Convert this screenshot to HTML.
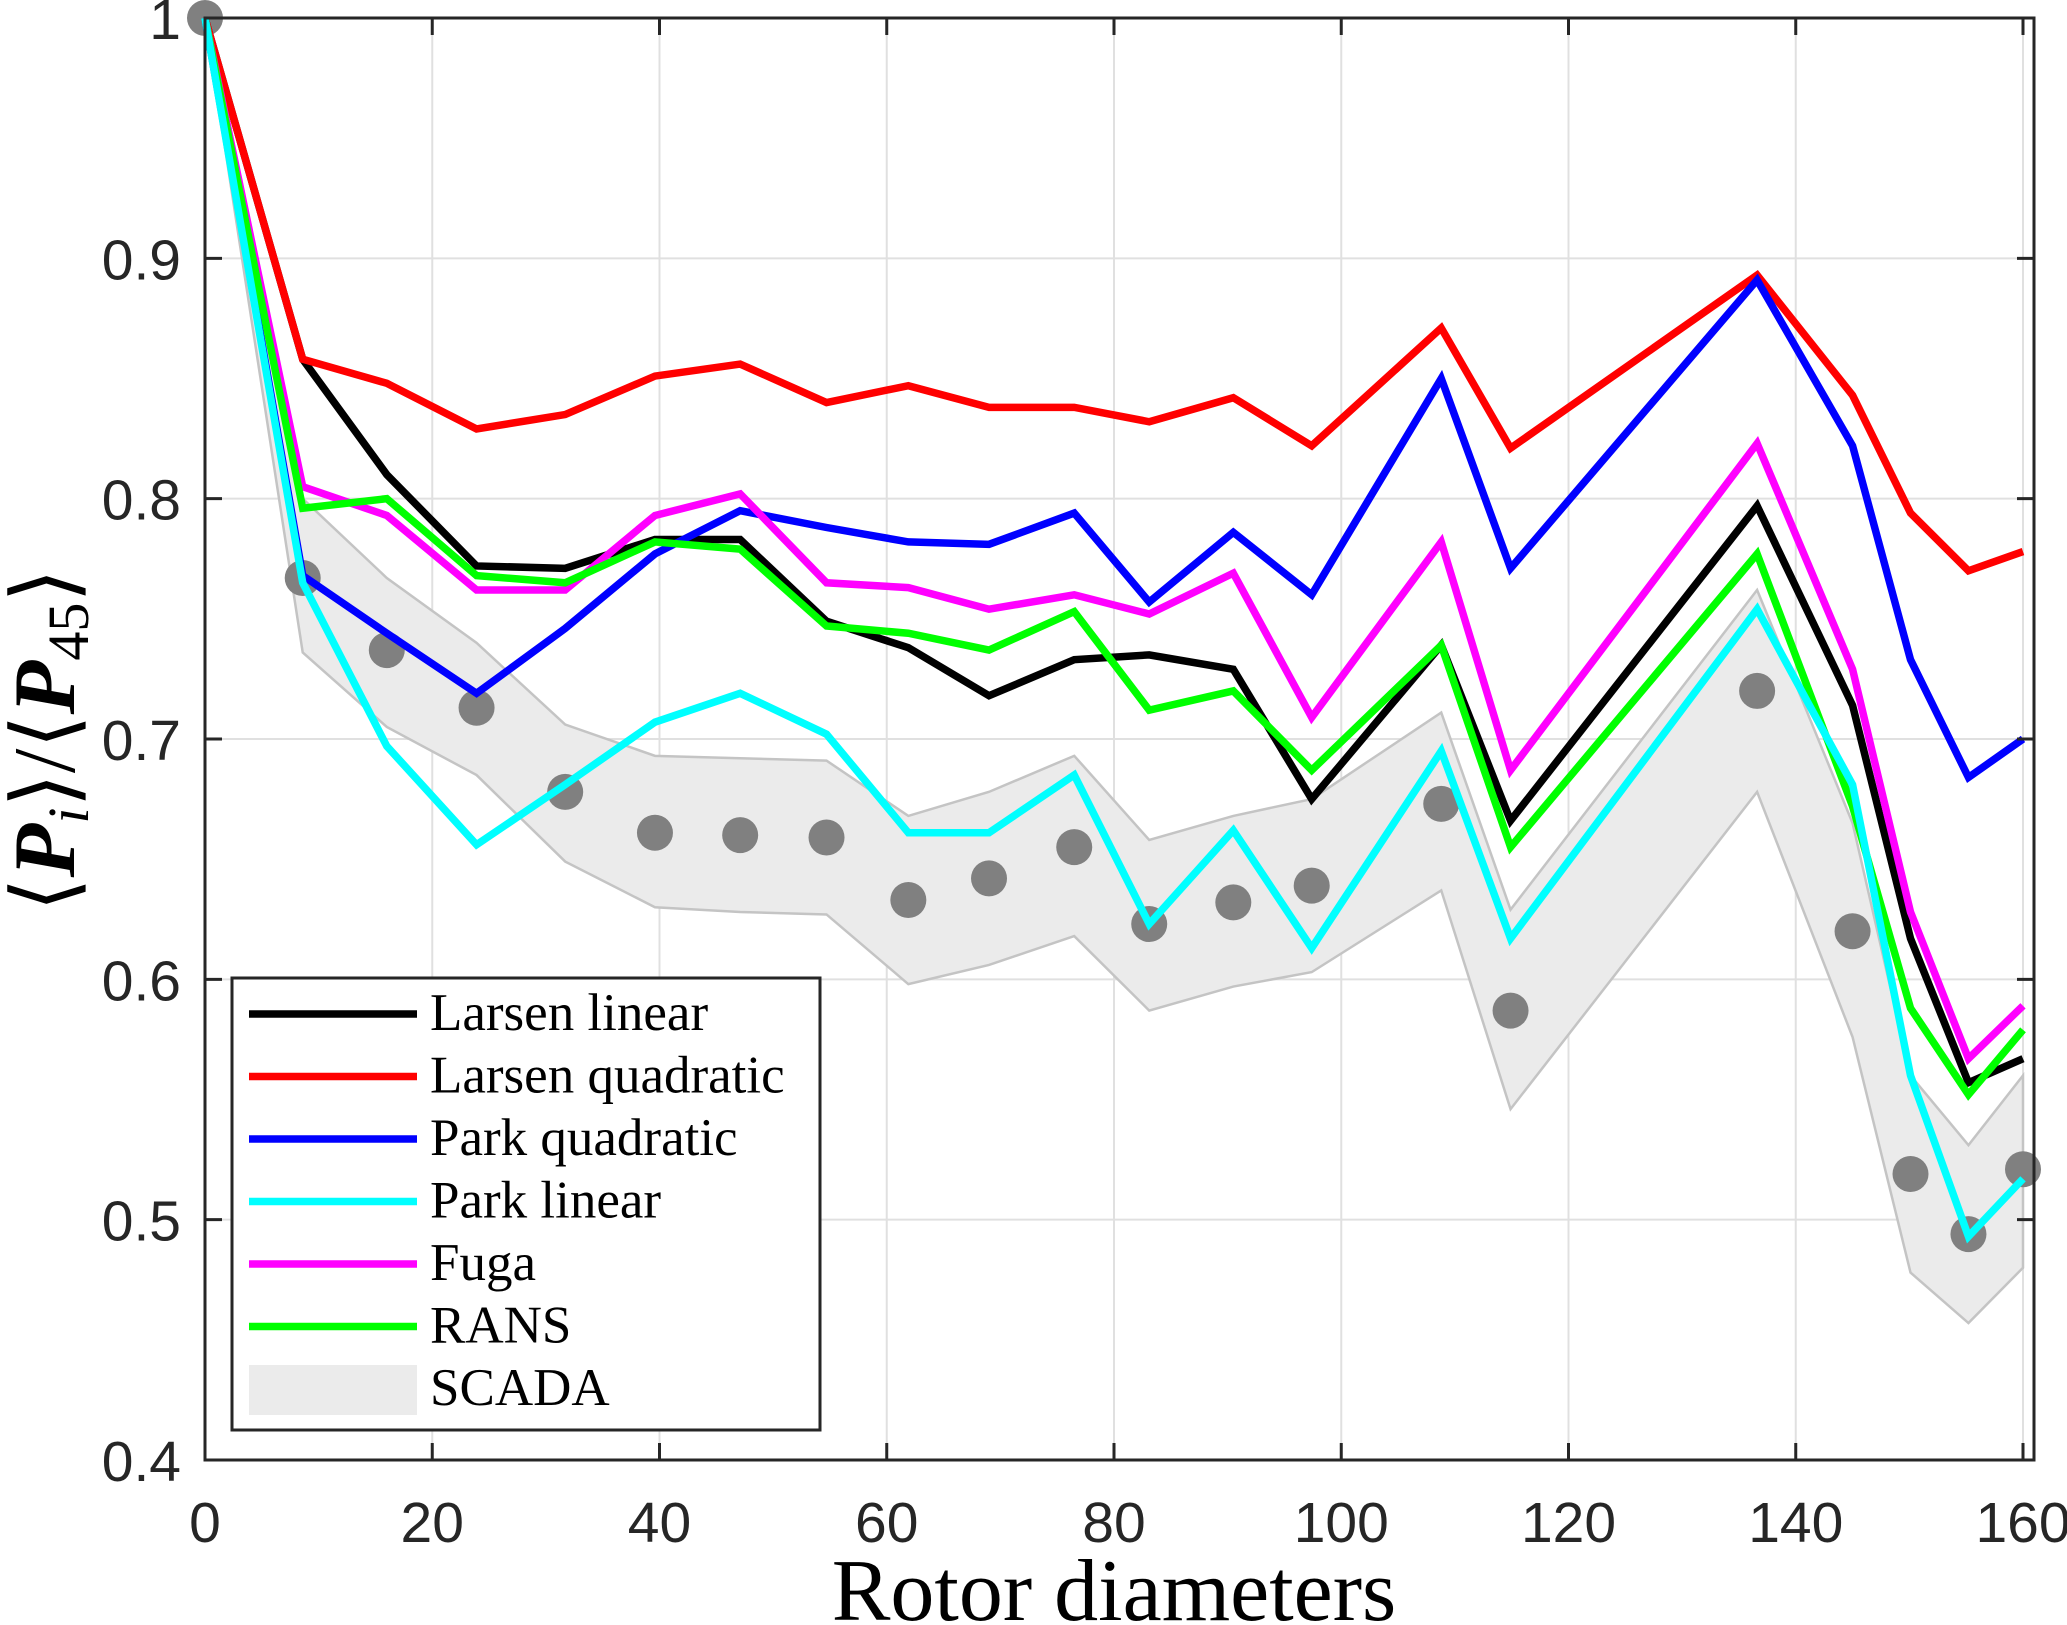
<!DOCTYPE html>
<html><head><meta charset="utf-8"><style>
html,body{margin:0;padding:0;background:#fff;}
svg{display:block;}
</style></head><body>
<svg id="chart" width="2067" height="1625" viewBox="0 0 2067 1625" xmlns="http://www.w3.org/2000/svg">
<g id="grid"></g>
<g id="band"></g>
<g id="dots"></g>
<g id="lines"></g>
<g id="axes"></g>
<g id="legend"></g>
<text x="1114" y="1620" text-anchor="middle" font-family="Liberation Serif, serif" font-size="88" fill="#000">Rotor diameters</text>
<text transform="translate(74,740) rotate(-90)" text-anchor="middle" font-family="Liberation Serif, serif" font-size="88" fill="#000">⟨<tspan font-style="italic" font-weight="bold">P</tspan><tspan font-style="italic" font-size="58" dy="14">i</tspan><tspan dy="-14">⟩/⟨</tspan><tspan font-style="italic" font-weight="bold">P</tspan><tspan font-size="58" dy="14">45</tspan><tspan dy="-14">⟩</tspan></text>
</svg>
<script>
const xs = [0,8.6,16,23.9,31.7,39.6,47.1,54.7,61.9,69,76.5,83.1,90.5,97.4,108.8,114.9,136.6,145,150.1,155.2,160];
const scada = [1,0.767,0.737,0.713,0.678,0.661,0.660,0.659,0.633,0.642,0.655,0.623,0.632,0.639,0.673,0.587,0.720,0.620,0.519,0.494,0.521];
const scadaUpper = [1,0.80,0.767,0.740,0.706,0.693,0.692,0.691,0.668,0.678,0.693,0.658,0.668,0.675,0.711,0.629,0.762,0.665,0.560,0.531,0.560];
const scadaLower = [1,0.736,0.705,0.685,0.649,0.630,0.628,0.627,0.598,0.606,0.618,0.587,0.597,0.603,0.637,0.546,0.678,0.576,0.478,0.457,0.480];
const larsenLinear = [1,0.858,0.810,0.772,0.771,0.783,0.783,0.749,0.738,0.718,0.733,0.735,0.729,0.675,0.739,0.666,0.797,0.714,0.617,0.557,0.567];
const larsenQuadratic = [1,0.858,0.848,0.829,0.835,0.851,0.856,0.840,0.847,0.838,0.838,0.832,0.842,0.822,0.871,0.821,0.893,0.843,0.794,0.770,0.778];
const parkQuadratic = [1,0.768,0.744,0.719,0.746,0.777,0.795,0.788,0.782,0.781,0.794,0.757,0.786,0.760,0.850,0.771,0.891,0.822,0.733,0.684,0.700];
const parkLinear = [1,0.765,0.697,0.656,0.681,0.707,0.719,0.702,0.661,0.661,0.685,0.623,0.662,0.613,0.695,0.617,0.754,0.681,0.560,0.493,0.517];
const fuga = [1,0.805,0.793,0.762,0.762,0.793,0.802,0.765,0.763,0.754,0.760,0.752,0.769,0.709,0.782,0.687,0.823,0.729,0.628,0.567,0.589];
const rans = [1,0.796,0.800,0.768,0.765,0.782,0.779,0.747,0.744,0.737,0.753,0.712,0.720,0.687,0.739,0.655,0.777,0.672,0.588,0.552,0.579];
const xTicks = [0,20,40,60,80,100,120,140,160];
const yTicks = [0.4,0.5,0.6,0.7,0.8,0.9,1];
const yTickLabels = ["0.4","0.5","0.6","0.7","0.8","0.9","1"];

const NS="http://www.w3.org/2000/svg";
const L=205,R=2034,T=18,B=1460;
const X=v=>205+(v/160)*1818;
const Y=v=>B-(v-0.4)/0.6*(B-T);
function mk(tag,attrs,parent){const e=document.createElementNS(NS,tag);for(const k in attrs)e.setAttribute(k,attrs[k]);parent.appendChild(e);return e;}
const grid=document.getElementById('grid');
xTicks.forEach(t=>{const e=mk('line',{x1:X(t),x2:X(t),y1:T,y2:B,stroke:'#e0e0e0','stroke-width':2},grid);

});
yTicks.forEach(t=>{const e=mk('line',{x1:L,x2:R,y1:Y(t),y2:Y(t),stroke:'#e0e0e0','stroke-width':2},grid);

});
const band=document.getElementById('band');
let pts=xs.map((x,i)=>X(x)+','+Y(scadaUpper[i])).concat(xs.slice().reverse().map((x,j)=>{const i=xs.length-1-j;return X(x)+','+Y(scadaLower[i]);}));
const bp=mk('polygon',{points:pts.join(' '),fill:'#ebebeb',stroke:'#c4c4c4','stroke-width':2.5},band);


const dots=document.getElementById('dots');
xs.forEach((x,i)=>{const c=mk('circle',{cx:X(x),cy:Y(scada[i]),r:18,fill:'#808080'},dots);

});
const series=[['larsen-linear',larsenLinear,'#000'],['larsen-quadratic',larsenQuadratic,'#ff0000'],['park-quadratic',parkQuadratic,'#0000ff'],['park-linear',parkLinear,'#00ffff'],['fuga',fuga,'#ff00ff'],['rans',rans,'#00ff00']];
const lines=document.getElementById('lines');
[0,1,2,4,5,3].forEach(k=>{const s=series[k];
const p=mk('polyline',{points:xs.map((x,i)=>X(x)+','+Y(s[1][i])).join(' '),fill:'none',stroke:s[2],'stroke-width':7.5,'stroke-linejoin':'miter'},lines);

});
const ax=document.getElementById('axes');
mk('rect',{x:L,y:T,width:R-L,height:B-T,fill:'none',stroke:'#262626','stroke-width':3},ax);
xTicks.forEach(t=>{mk('line',{x1:X(t),x2:X(t),y1:B,y2:B-17,stroke:'#262626','stroke-width':3},ax);mk('line',{x1:X(t),x2:X(t),y1:T,y2:T+17,stroke:'#262626','stroke-width':3},ax);
const tx=mk('text',{x:X(t),y:1542,'text-anchor':'middle','font-family':'Liberation Sans, sans-serif','font-size':57,fill:'#262626'},ax);tx.textContent=t;

});
yTicks.forEach((t,i)=>{mk('line',{x1:L,x2:L+17,y1:Y(t),y2:Y(t),stroke:'#262626','stroke-width':3},ax);mk('line',{x1:R,x2:R-17,y1:Y(t),y2:Y(t),stroke:'#262626','stroke-width':3},ax);
const tx=mk('text',{x:181,y:Y(t)+21,'text-anchor':'end','font-family':'Liberation Sans, sans-serif','font-size':57,fill:'#262626'},ax);tx.textContent=yTickLabels[i];

});
const lg=document.getElementById('legend');
mk('rect',{x:232,y:978,width:588,height:452,fill:'#fff',stroke:'#262626','stroke-width':3},lg);
const labels=['Larsen linear','Larsen quadratic','Park quadratic','Park linear','Fuga','RANS','SCADA'];
const cols=['#000','#ff0000','#0000ff','#00ffff','#ff00ff','#00ff00'];
labels.forEach((lab,i)=>{const y=1014+i*62.5;
if(i<6){const l=mk('line',{x1:249,x2:417,y1:y,y2:y,stroke:cols[i],'stroke-width':7.5},lg);

}
else{const r=mk('rect',{x:249,y:y-24,width:168,height:50,fill:'#ebebeb'},lg);

}
const t=mk('text',{x:430,y:y+16,'font-family':'Liberation Serif, serif','font-size':53,fill:'#000'},lg);t.textContent=lab;

});
</script>
</body></html>
